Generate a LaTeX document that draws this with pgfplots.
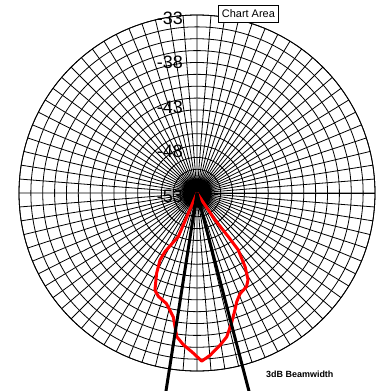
\documentclass[border=0pt]{standalone}
\usepackage{fontspec}
\setmainfont{Liberation Sans}
\usepackage{pgfplots}
\pgfplotsset{compat=1.18}
\usepgfplotslibrary{polar}
\usepackage{pgfplotstable}

% Radiation pattern: polar angle (deg, counter-clockwise from +x) and gain (dB)
\pgfplotstableread{
ang gain
-113.2 -53.0
-113.2 -50.5
-113.2 -47.7
-118.6 -45.5
-118.9 -44.4
-116.7 -42.9
-113.4 -41.1
-110.5 -40.6
-105.4 -40.1
-100.8 -38.8
-98.0 -36.7
-95.2 -35.9
-91.3 -35.0
-88.4 -34.1
-85.4 -34.7
-81.4 -35.7
-78.3 -36.5
-75.1 -37.9
-72.0 -39.2
-69.9 -40.0
-66.8 -40.7
-62.1 -41.1
-59.5 -41.7
-56.9 -43.1
-54.1 -45.1
-54.4 -47.0
-56.3 -49.4
-56.0 -53.0
}\tabGainPattern

% 3 dB beamwidth edges
\pgfplotstableread{
ang gain
-98.9 -53
-98.9 -29
}\tabEdgeLeft
\pgfplotstableread{
ang gain
-75.3 -53
-75.3 -29
}\tabEdgeRight

\begin{document}
\begin{tikzpicture}
% page frame, centred on the pole of the polar axis
\clip (-197bp,-198bp) rectangle (194bp,193bp);
\begin{polaraxis}[
  at={(0,0)}, anchor=center,
  scale only axis, width=356bp, height=356bp,
  xmin=0, xmax=360, ymin=0, ymax=20,
  xtick={0,4.5,...,355.5},
  ytick={1.3333,2.6667,4,5.3333,6.6667,8,9.3333,10.6667,12,13.3333,14.6667,16,17.3333,18.6667,20},
  xticklabels={}, yticklabels={},
  major tick length=0pt,
  grid=major,
  major grid style={black, line width=0.8bp},
  axis line style={black, line width=0.8bp},
  clip=false,
]
\addplot[red, line width=3bp, line join=round, no markers] table[x=ang, y expr=\thisrow{gain}+53] {\tabGainPattern};
\addplot[black, line width=3bp, no markers] table[x=ang, y expr=\thisrow{gain}+53] {\tabEdgeLeft};
\addplot[black, line width=3bp, no markers] table[x=ang, y expr=\thisrow{gain}+53] {\tabEdgeRight};
\node[anchor=east, inner sep=0pt, font=\fontsize{18}{18}\selectfont] at ([shift={(-14bp,-3bp)}]axis cs:90,0) {-53};
\node[anchor=east, inner sep=0pt, font=\fontsize{18}{18}\selectfont] at ([shift={(-14bp,-3bp)}]axis cs:90,5) {-48};
\node[anchor=east, inner sep=0pt, font=\fontsize{18}{18}\selectfont] at ([shift={(-14bp,-3bp)}]axis cs:90,10) {-43};
\node[anchor=east, inner sep=0pt, font=\fontsize{18}{18}\selectfont] at ([shift={(-14bp,-3bp)}]axis cs:90,15) {-38};
\node[anchor=east, inner sep=0pt, font=\fontsize{18}{18}\selectfont] at ([shift={(-14bp,-3bp)}]axis cs:90,20) {-33};
\end{polaraxis}
\node[draw=black, fill=white, line width=0.8bp, anchor=north west, minimum width=60.6bp, minimum height=16.7bp, inner sep=1bp, font=\fontsize{11}{11}\selectfont] at (20.7bp,188bp) {Chart Area};
\node[anchor=base west, inner sep=0pt, font=\fontsize{9}{9}\selectfont\bfseries] at (69bp,-184.5bp) {3dB Beamwidth};
\end{tikzpicture}
\end{document}
